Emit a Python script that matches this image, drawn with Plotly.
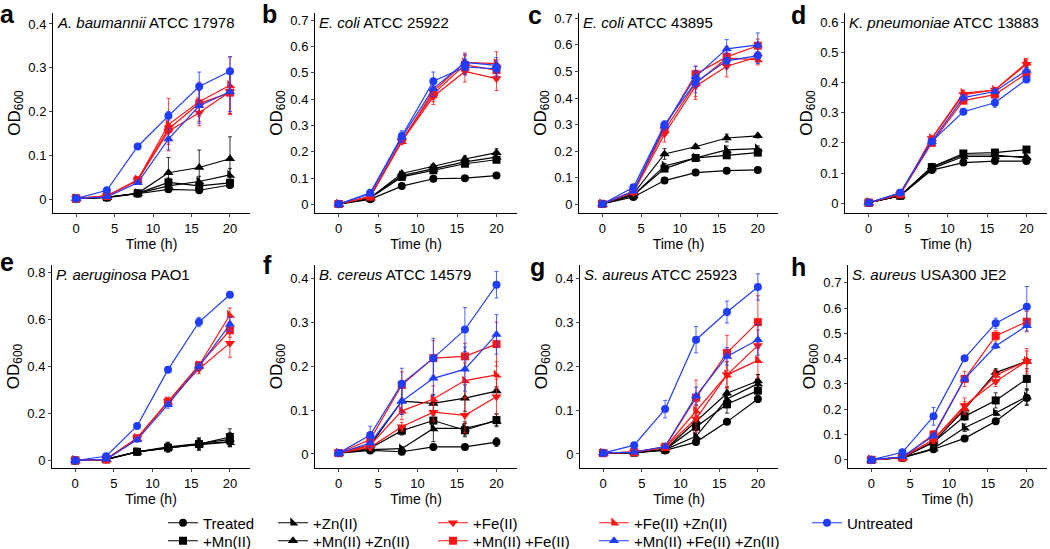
import plotly.graph_objects as go

# ---------------- data ----------------
time_h = [0, 4, 8, 12, 16, 20]

series_names = ["Treated", "+Mn(II)", "+Zn(II)", "+Mn(II) +Zn(II)", "+Fe(II)",
                "+Mn(II) +Fe(II)", "+Fe(II) +Zn(II)", "+Mn(II) +Fe(II) +Zn(II)", "Untreated"]

panel_letters = ["a", "b", "c", "d", "e", "f", "g", "h"]
panel_species = ["A. baumannii", "E. coli", "E. coli", "K. pneumoniae",
                 "P. aeruginosa", "B. cereus", "S. aureus", "S. aureus"]
panel_strains = ["ATCC 17978", "ATCC 25922", "ATCC 43895", "ATCC 13883",
                 "PAO1", "ATCC 14579", "ATCC 25923", "USA300 JE2"]

# order of rows: Treated, +Mn, +Zn, +Mn+Zn, +Fe, +Mn+Fe, +Fe+Zn, +Mn+Fe+Zn, Untreated
od_a = [[0.001, 0.003, 0.012, 0.022, 0.020, 0.032],
        [0.001, 0.004, 0.013, 0.038, 0.030, 0.037],
        [0.001, 0.004, 0.013, 0.030, 0.040, 0.055],
        [0.001, 0.004, 0.013, 0.060, 0.072, 0.092],
        [0.001, 0.007, 0.042, 0.155, 0.197, 0.245],
        [0.001, 0.007, 0.043, 0.160, 0.218, 0.243],
        [0.001, 0.007, 0.044, 0.170, 0.222, 0.260],
        [0.001, 0.005, 0.037, 0.137, 0.213, 0.245],
        [0.001, 0.020, 0.120, 0.190, 0.257, 0.292]]
err_a = [[0, 0.001, 0.002, 0.005, 0.005, 0.006],
         [0, 0.001, 0.003, 0.010, 0.008, 0.008],
         [0, 0.001, 0.003, 0.015, 0.012, 0.015],
         [0, 0.002, 0.005, 0.035, 0.040, 0.050],
         [0, 0.002, 0.005, 0.030, 0.030, 0.050],
         [0, 0.002, 0.005, 0.030, 0.030, 0.050],
         [0, 0.002, 0.005, 0.060, 0.045, 0.065],
         [0, 0.002, 0.004, 0.025, 0.040, 0.045],
         [0, 0.002, 0.004, 0.010, 0.033, 0.033]]

od_b = [[0.002, 0.020, 0.070, 0.098, 0.100, 0.110],
        [0.002, 0.025, 0.105, 0.130, 0.155, 0.170],
        [0.002, 0.025, 0.110, 0.135, 0.162, 0.180],
        [0.002, 0.026, 0.118, 0.145, 0.173, 0.197],
        [0.002, 0.030, 0.240, 0.410, 0.505, 0.478],
        [0.002, 0.030, 0.245, 0.420, 0.530, 0.510],
        [0.002, 0.030, 0.240, 0.430, 0.540, 0.535],
        [0.002, 0.040, 0.255, 0.440, 0.540, 0.528],
        [0.002, 0.045, 0.260, 0.468, 0.522, 0.515]]
err_b = [[0, 0.002, 0.005, 0.005, 0.005, 0.005],
         [0, 0.002, 0.005, 0.008, 0.010, 0.010],
         [0, 0.002, 0.005, 0.008, 0.010, 0.012],
         [0, 0.002, 0.005, 0.008, 0.012, 0.015],
         [0, 0.003, 0.010, 0.030, 0.040, 0.045],
         [0, 0.003, 0.010, 0.030, 0.035, 0.040],
         [0, 0.003, 0.010, 0.030, 0.035, 0.045],
         [0, 0.004, 0.020, 0.030, 0.030, 0.030],
         [0, 0.004, 0.020, 0.035, 0.030, 0.030]]

od_c = [[0.002, 0.028, 0.090, 0.120, 0.127, 0.130],
        [0.002, 0.035, 0.135, 0.175, 0.185, 0.195],
        [0.002, 0.035, 0.145, 0.175, 0.205, 0.210],
        [0.002, 0.040, 0.190, 0.217, 0.250, 0.258],
        [0.002, 0.045, 0.265, 0.445, 0.520, 0.555],
        [0.002, 0.050, 0.290, 0.490, 0.555, 0.597],
        [0.002, 0.050, 0.280, 0.455, 0.550, 0.545],
        [0.002, 0.050, 0.295, 0.480, 0.585, 0.600],
        [0.002, 0.065, 0.300, 0.460, 0.540, 0.560]]
err_c = [[0, 0.002, 0.005, 0.005, 0.005, 0.005],
         [0, 0.002, 0.008, 0.008, 0.010, 0.010],
         [0, 0.002, 0.010, 0.008, 0.015, 0.010],
         [0, 0.003, 0.020, 0.008, 0.015, 0.008],
         [0, 0.004, 0.030, 0.050, 0.040, 0.020],
         [0, 0.004, 0.020, 0.030, 0.040, 0.025],
         [0, 0.004, 0.020, 0.050, 0.030, 0.020],
         [0, 0.005, 0.015, 0.040, 0.035, 0.045],
         [0, 0.005, 0.015, 0.040, 0.030, 0.030]]

od_d = [[0.002, 0.025, 0.110, 0.135, 0.140, 0.140],
        [0.002, 0.025, 0.120, 0.165, 0.168, 0.178],
        [0.002, 0.025, 0.115, 0.155, 0.155, 0.155],
        [0.002, 0.025, 0.120, 0.160, 0.160, 0.150],
        [0.002, 0.030, 0.215, 0.360, 0.375, 0.460],
        [0.002, 0.030, 0.200, 0.340, 0.360, 0.430],
        [0.002, 0.030, 0.215, 0.365, 0.375, 0.465],
        [0.002, 0.035, 0.205, 0.350, 0.370, 0.440],
        [0.002, 0.035, 0.205, 0.303, 0.333, 0.410]]
err_d = [[0, 0.002, 0.005, 0.005, 0.005, 0.005],
         [0, 0.002, 0.005, 0.005, 0.005, 0.005],
         [0, 0.002, 0.005, 0.005, 0.005, 0.005],
         [0, 0.002, 0.005, 0.005, 0.005, 0.005],
         [0, 0.003, 0.008, 0.010, 0.008, 0.015],
         [0, 0.003, 0.008, 0.010, 0.008, 0.010],
         [0, 0.003, 0.008, 0.010, 0.008, 0.015],
         [0, 0.003, 0.008, 0.010, 0.008, 0.010],
         [0, 0.003, 0.008, 0.008, 0.015, 0.010]]

od_e = [[0.000, 0.005, 0.037, 0.055, 0.070, 0.080],
        [0.000, 0.005, 0.037, 0.055, 0.070, 0.100],
        [0.000, 0.005, 0.037, 0.055, 0.068, 0.078],
        [0.000, 0.005, 0.037, 0.058, 0.072, 0.090],
        [0.000, 0.005, 0.095, 0.250, 0.390, 0.500],
        [0.000, 0.005, 0.095, 0.250, 0.405, 0.555],
        [0.000, 0.005, 0.095, 0.250, 0.405, 0.620],
        [0.000, 0.005, 0.088, 0.238, 0.400, 0.580],
        [0.000, 0.018, 0.147, 0.387, 0.590, 0.706]]
err_e = [[0, 0.002, 0.005, 0.010, 0.015, 0.020],
         [0, 0.002, 0.005, 0.010, 0.020, 0.035],
         [0, 0.002, 0.005, 0.020, 0.025, 0.020],
         [0, 0.002, 0.005, 0.020, 0.025, 0.030],
         [0, 0.002, 0.010, 0.020, 0.020, 0.060],
         [0, 0.002, 0.010, 0.015, 0.015, 0.030],
         [0, 0.002, 0.010, 0.015, 0.015, 0.030],
         [0, 0.002, 0.010, 0.015, 0.015, 0.030],
         [0, 0.003, 0.005, 0.005, 0.020, 0.005]]

od_f = [[0.002, 0.008, 0.005, 0.016, 0.016, 0.027],
        [0.002, 0.013, 0.053, 0.076, 0.054, 0.077],
        [0.002, 0.010, 0.012, 0.058, 0.058, 0.075],
        [0.002, 0.020, 0.120, 0.115, 0.127, 0.143],
        [0.002, 0.015, 0.062, 0.095, 0.088, 0.130],
        [0.002, 0.033, 0.157, 0.218, 0.222, 0.250],
        [0.002, 0.020, 0.098, 0.125, 0.167, 0.180],
        [0.002, 0.025, 0.120, 0.172, 0.193, 0.272],
        [0.002, 0.043, 0.160, 0.218, 0.283, 0.385]]
err_f = [[0, 0.003, 0.005, 0.005, 0.005, 0.010],
         [0, 0.005, 0.010, 0.015, 0.015, 0.015],
         [0, 0.005, 0.005, 0.030, 0.015, 0.010],
         [0, 0.008, 0.030, 0.020, 0.030, 0.010],
         [0, 0.006, 0.010, 0.020, 0.040, 0.040],
         [0, 0.008, 0.030, 0.040, 0.030, 0.050],
         [0, 0.006, 0.020, 0.030, 0.040, 0.030],
         [0, 0.010, 0.030, 0.040, 0.050, 0.045],
         [0, 0.020, 0.035, 0.045, 0.050, 0.030]]

od_g = [[0.002, 0.003, 0.008, 0.027, 0.073, 0.125],
        [0.002, 0.003, 0.010, 0.062, 0.113, 0.144],
        [0.002, 0.003, 0.010, 0.040, 0.125, 0.160],
        [0.002, 0.003, 0.010, 0.075, 0.138, 0.166],
        [0.002, 0.004, 0.015, 0.080, 0.180, 0.247],
        [0.002, 0.004, 0.016, 0.128, 0.230, 0.300],
        [0.002, 0.004, 0.015, 0.098, 0.180, 0.213],
        [0.002, 0.004, 0.017, 0.132, 0.222, 0.260],
        [0.002, 0.020, 0.102, 0.260, 0.323, 0.380]]
err_g = [[0, 0.001, 0.002, 0.005, 0.005, 0.008],
         [0, 0.001, 0.003, 0.020, 0.020, 0.015],
         [0, 0.001, 0.003, 0.015, 0.020, 0.020],
         [0, 0.001, 0.003, 0.020, 0.015, 0.015],
         [0, 0.002, 0.004, 0.030, 0.030, 0.035],
         [0, 0.002, 0.004, 0.040, 0.040, 0.060],
         [0, 0.002, 0.004, 0.020, 0.030, 0.040],
         [0, 0.002, 0.004, 0.020, 0.020, 0.035],
         [0, 0.003, 0.020, 0.030, 0.025, 0.030]]

od_h = [[0.000, 0.008, 0.042, 0.085, 0.153, 0.245],
        [0.000, 0.010, 0.070, 0.172, 0.235, 0.320],
        [0.000, 0.010, 0.045, 0.127, 0.185, 0.250],
        [0.000, 0.010, 0.070, 0.200, 0.345, 0.390],
        [0.000, 0.010, 0.080, 0.215, 0.310, 0.390],
        [0.000, 0.010, 0.100, 0.320, 0.490, 0.546],
        [0.000, 0.010, 0.080, 0.205, 0.335, 0.390],
        [0.000, 0.012, 0.095, 0.320, 0.450, 0.530],
        [0.000, 0.030, 0.172, 0.402, 0.540, 0.605]]
err_h = [[0, 0.003, 0.005, 0.005, 0.008, 0.030],
         [0, 0.003, 0.010, 0.015, 0.030, 0.040],
         [0, 0.003, 0.010, 0.015, 0.010, 0.030],
         [0, 0.003, 0.010, 0.020, 0.015, 0.010],
         [0, 0.003, 0.015, 0.030, 0.020, 0.040],
         [0, 0.003, 0.015, 0.030, 0.020, 0.040],
         [0, 0.003, 0.015, 0.025, 0.020, 0.050],
         [0, 0.003, 0.010, 0.010, 0.010, 0.020],
         [0, 0.005, 0.035, 0.010, 0.020, 0.080]]

y_top = [0.425, 0.727, 0.72, 0.63, 0.833, 0.43, 0.43, 0.77]
y_dtick = [0.1, 0.1, 0.1, 0.1, 0.2, 0.1, 0.1, 0.1]

# ---------------- styles ----------------
BLACK, RED, BLUE = "#000000", "#ff1414", "#1f3dff"
colors = [BLACK, BLACK, BLACK, BLACK, RED, RED, RED, BLUE, BLUE]
symbols = ["circle", "square", "triangle-sw", "triangle-up", "triangle-down",
           "square", "triangle-sw", "triangle-up", "circle"]
msizes = [8, 8, 9, 9, 9, 8, 9, 9, 8]

# legend slot for each series: (line start x px, row centre y px)
legend_pos_px = [(168, 523), (168, 541), (278, 523), (278, 541), (438, 523),
                 (438, 541), (599, 523), (599, 541), (812, 523)]

panels_od = [od_a, od_b, od_c, od_d, od_e, od_f, od_g, od_h]
panels_err = [err_a, err_b, err_c, err_d, err_e, err_f, err_g, err_h]

# figure slightly taller than the 549px view so the lower legend row's box
# fits inside the paper (no margin push); positions are in view pixels
W, H = 1050, 570
x_dom_px = [(53, 250), (315, 517), (579, 778), (845, 1047),
            (52, 250), (315, 517), (580, 778), (848, 1047)]
y_dom_px = [(13, 213)] * 4 + [(265, 468)] * 4
letter_px = [(7, 14), (269, 14), (535, 15), (798, 15),
             (7, 262), (267, 265), (537, 267), (798, 267)]

FONT = "Liberation Sans, Arial, sans-serif"

fig = go.Figure()
layout = dict(width=W, height=H, margin=dict(l=0, r=0, t=0, b=0),
              paper_bgcolor="white", plot_bgcolor="white",
              font=dict(family=FONT, size=13, color="black"))
annotations = []

def legend_key(i):
    return "legend" if i == 0 else "legend" + str(i + 1)

for p in range(8):
    ax = "" if p == 0 else str(p + 1)
    xa, ya = "x" + ax, "y" + ax
    for s in range(9):
        fig.add_trace(go.Scatter(
            x=time_h, y=panels_od[p][s], mode="lines+markers",
            name=series_names[s], xaxis=xa, yaxis=ya,
            line=dict(color=colors[s], width=1.2),
            marker=dict(symbol=symbols[s], size=msizes[s], color=colors[s],
                        line=dict(width=0)),
            error_y=dict(type="data", array=panels_err[p][s], color=colors[s],
                         thickness=0.8, width=2),
            legend=legend_key(s), showlegend=(p == 0)))
    x0, x1 = x_dom_px[p]
    yt, yb = y_dom_px[p]
    layout["xaxis" + ax] = dict(
        domain=[x0 / W, x1 / W], anchor=ya, range=[-3, 22.6], automargin=False,
        tickvals=[0, 5, 10, 15, 20], ticks="outside", ticklen=3,
        showline=True, linecolor="black", linewidth=1, showgrid=False,
        zeroline=False, tickfont=dict(size=13),
        title=dict(text="Time (h)", font=dict(size=14), standoff=0))
    layout["yaxis" + ax] = dict(
        domain=[1 - yb / H, 1 - yt / H], anchor=xa, automargin=False,
        range=[-0.032, y_top[p]], dtick=y_dtick[p], tick0=0,
        ticks="outside", ticklen=3, showline=True, linecolor="black",
        linewidth=1, showgrid=False, zeroline=False, tickfont=dict(size=13),
        title=dict(text="OD<sub>600</sub>", font=dict(size=17), standoff=3))
    annotations.append(dict(
        text="<i>" + panel_species[p] + "</i> " + panel_strains[p],
        xref="paper", yref="paper", x=(x0 + 2) / W, y=1 - (yt - 1) / H,
        xanchor="left", yanchor="top", showarrow=False,
        font=dict(size=15)))
    lx, ly = letter_px[p]
    annotations.append(dict(
        text="<b>" + panel_letters[p] + "</b>", xref="paper", yref="paper",
        x=lx / W, y=1 - ly / H, xanchor="center", yanchor="middle",
        showarrow=False, font=dict(size=25)))

for i, (lxp, lyp) in enumerate(legend_pos_px):
    layout[legend_key(i)] = dict(
        x=(lxp - 5) / W, y=1 - lyp / H, xanchor="left", yanchor="middle",
        orientation="v", bgcolor="rgba(0,0,0,0)", borderwidth=0,
        font=dict(size=15), itemwidth=30)

layout["annotations"] = annotations
fig.update_layout(**layout)
fig.write_html("out.html", config={"displayModeBar": False},
               post_script="document.body.style.margin='0';document.body.style.overflow='hidden';")
